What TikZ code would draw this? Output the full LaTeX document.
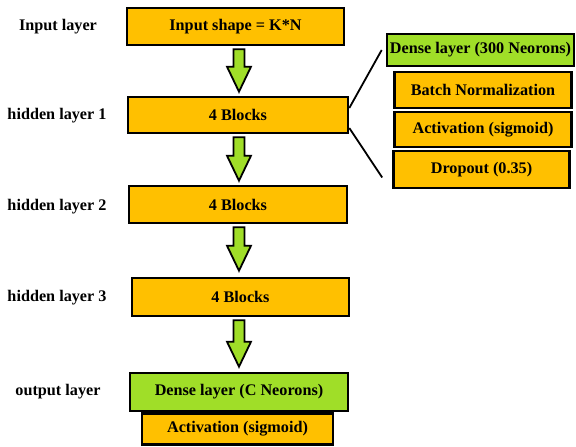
\documentclass[tikz,border=0pt]{standalone}
\usepackage{fontspec}
\setmainfont{Liberation Serif}
\usetikzlibrary{calc}
\definecolor{gold}{RGB}{255,192,0}
\definecolor{limeg}{RGB}{160,222,40}
\tikzset{
  box/.style={draw=black, line width=2.6pt, fill=gold, inner sep=0pt,
    font=\fontsize{16.2}{19}\selectfont\bfseries},
  gbox/.style={box, fill=limeg},
  lbl/.style={inner sep=0pt, font=\fontsize{16.2}{19}\selectfont\bfseries},
  fat/.style={draw=black, fill=limeg, line width=1.8pt, line join=miter},
  link/.style={draw=black, line width=1.8pt}
}
\newcommand\fatarrow[3]{%
  \path let \p1=(#1.south), \p2=(#2.north) in
    [fat] (233.5pt,{\y1-3pt}) -- (244.5pt,{\y1-3pt}) -- (244.5pt,{\y2+#3+25pt}) --
    (251pt,{\y2+#3+25pt}) -- (239pt,{\y2+#3}) -- (227pt,{\y2+#3+25pt}) --
    (233.5pt,{\y2+#3+25pt}) -- cycle;}
\begin{document}
\begin{tikzpicture}[x=1pt,y=-1pt]
\useasboundingbox (0,0) rectangle (576,447);
% main column
\node[box, minimum width=217, minimum height=37] (in) at (235.5,26.5) {Input shape = K*N};
\node[box, minimum width=220, minimum height=36] (h1) at (238,115) {4 Blocks};
\node[box, minimum width=218, minimum height=37] (h2) at (238,204.5) {4 Blocks};
\node[box, minimum width=217, minimum height=38] (h3) at (240.5,297) {4 Blocks};
\node[gbox, minimum width=218, minimum height=38] (od) at (239,392) {Dense layer (C Neorons)};
\node[box, minimum width=191, minimum height=31] (oa) at (237.5,429) {Activation (sigmoid)};
% right column
\node[gbox, minimum width=187, minimum height=32] (d300) at (480.5,50) {Dense layer (300 Neorons)};
\node[box, minimum width=177, minimum height=36] (bn) at (483,90) {Batch Normalization};
\node[box, minimum width=177, minimum height=35] (act) at (483,129.5) {Activation (sigmoid)};
\node[box, minimum width=176, minimum height=37] (drop) at (481.5,169.5) {Dropout (0.35)};
% labels
\node[lbl] (lin) at (58,27) {Input layer};
\node[lbl] (l1) at (57,116) {hidden layer 1};
\node[lbl] (l2) at (57,207) {hidden layer 2};
\node[lbl] (l3) at (57,298) {hidden layer 3};
\node[lbl] (lo) at (58,392) {output layer};
% arrows
\fatarrow{in}{h1}{4pt}
\fatarrow{h1}{h2}{4pt}
\fatarrow{h2}{h3}{6pt}
\fatarrow{h3}{od}{5pt}
% links to detail
\coordinate (ta) at ($(d300.west)+(-4,0)$);
\coordinate (tb) at ($(drop.west)+(-10,8)$);
\draw[link] ($(h1.east)+(0,-7)$) -- (ta);
\draw[link] ($(h1.east)+(0,13)$) -- (tb);
\end{tikzpicture}
\end{document}
